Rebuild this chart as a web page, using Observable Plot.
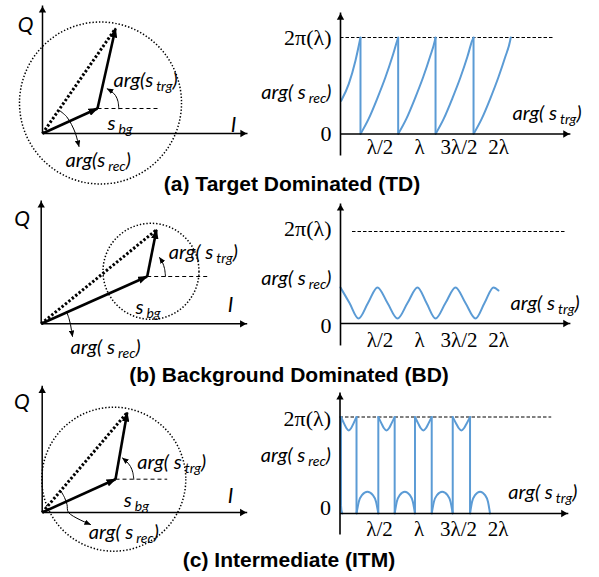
<!DOCTYPE html>
<html>
<head>
<meta charset="utf-8">
<script src="https://cdn.jsdelivr.net/npm/d3@7"></script>
<script src="https://cdn.jsdelivr.net/npm/@observablehq/plot@0.6"></script>
<style>
html, body { margin: 0; padding: 0; background: #fff; }
#fig { position: relative; width: 599px; height: 577px; overflow: hidden; }
#fig svg { position: absolute; left: 0; top: 0; background: transparent; }
.cap { position: absolute; transform: translate(-50%, -50%); white-space: nowrap;
  font-family: "Liberation Sans", Arial, sans-serif; font-weight: bold; font-size: 21px; color: #000; }
</style>
</head>
<body>
<div id="fig"></div>
<script>
const TAU = 2 * Math.PI;
const BLUE = "#5B9BD5";

// ---------- Phasor diagrams (I/Q plane, arbitrary units, origin at axes crossing) ----------
const qAxisTop      = [6.4, 6.165, 6.335];
const iAxisEnd      = [10.25, 10.3, 10.25];
const bgTips        = [[2.75, 1.25], [5.3, 2.365], [3.665, 1.665]];
const trgTips       = [[3.65, 5.25], [5.765, 4.7], [4.25, 5.0]];
const refLineEnds   = [5.8, 8.3, 6.25];
const circleCenters = [[2.9, 1.525], [5.49, 2.625], [3.58, 1.665]];
const trgArcs = [
  [[3.815, 1.235], [3.775, 1.6], [3.65, 1.9], [3.45, 2.1], [3.235, 2.235]],
  [[6.215, 2.365], [6.165, 2.765], [6.065, 3.065], [5.915, 3.315]],
  [[4.58, 1.665], [4.53, 2.0], [4.415, 2.3], [4.215, 2.55], [4.015, 2.725]]
];
const recArcs = [
  [[0.85, 1.15], [1.2, 0.85], [1.45, 0.45], [1.65, 0], [1.75, -0.35], [1.825, -0.65]],
  [[1.265, 0.615], [1.39, 0.265], [1.465, -0.035], [1.515, -0.335], [1.565, -0.635]],
  [[0.915, 1.1], [1.115, 0.75], [1.24, 0.4], [1.315, 0], [2.415, -0.6]]
];
const qLabelPos   = [[-0.85, 5.4], [-0.95, 5.25], [-1.015, 5.5]];
const iLabelPos   = [[9.55, 0.4], [9.465, 0.915], [9.415, 0.835]];
const trgLabelPos = [[3.55, 2.65], [6.38, 3.58], [4.75, 2.5]];
const bgLabelPos  = [[3.25, 0.5], [4.715, 0.83], [4.08, 0.585]];
const recLabelPos = [[1.15, -1.35], [1.465, -1.17], [2.33, -1.0]];
const trgLabelText = ["arg(s_{trg})", "arg( s_{trg})", "arg( s_{trg})"];
const recLabelText = ["arg(s_{rec})", "arg( s_{rec})", "arg( s_{rec})"];
const bgLabelText  = "s_{bg}";

// ---------- Phase plots: x in wavelengths, y = arg(s_rec) in radians ----------
const tickValues = [0.5, 1, 1.5, 2];
const tickLabels = ["λ/2", "λ", "3λ/2", "2λ"];
const tdTeeth = [
  [[0.009, 2.16], [0.106, 3.28], [0.19, 4.79], [0.253, 6.283]],
  [[0.253, 0], [0.359, 1.02], [0.465, 2.31], [0.570, 3.71], [0.655, 5.01], [0.718, 6.09], [0.730, 6.283]],
  [[0.730, 0], [0.836, 1.02], [0.942, 2.31], [1.047, 3.71], [1.132, 5.01], [1.195, 6.09], [1.203, 6.283]],
  [[1.203, 0], [1.309, 1.02], [1.415, 2.31], [1.520, 3.71], [1.605, 5.01], [1.668, 6.09], [1.684, 6.283]],
  [[1.684, 0], [1.790, 1.02], [1.896, 2.31], [2.000, 3.71], [2.085, 5.01], [2.148, 6.09], [2.155, 6.283]]
];
const tdDrops = [0.253, 0.730, 1.203, 1.684];
const bdCurve = [
  [0, 2.46], [0.114, 1.40], [0.228, 0.34], [0.348, 1.40], [0.468, 2.46], [0.595, 1.40],
  [0.722, 0.34], [0.848, 1.40], [0.975, 2.46], [1.089, 1.40], [1.203, 0.34], [1.329, 1.40],
  [1.456, 2.46], [1.582, 1.40], [1.709, 0.34], [1.823, 1.40], [1.937, 2.46], [2.0, 2.25]
];
const itmSegments = [
  [[0.013, 0.5], [0.018, 0.2], [0.03, 0]],
  [[0.013, 6.283], [0.052, 5.85], [0.082, 5.55], [0.111, 5.41], [0.140, 5.55], [0.170, 5.85], [0.209, 6.283]],
  [[0.209, 0], [0.237, 0.75], [0.278, 1.2], [0.347, 1.42], [0.416, 1.2], [0.457, 0.75], [0.485, 0]],
  [[0.485, 6.283], [0.526, 5.85], [0.557, 5.55], [0.589, 5.41], [0.620, 5.55], [0.651, 5.85], [0.692, 6.283]],
  [[0.692, 0], [0.718, 0.75], [0.756, 1.2], [0.821, 1.42], [0.885, 1.2], [0.923, 0.75], [0.949, 0]],
  [[0.949, 6.283], [0.991, 5.85], [1.023, 5.55], [1.055, 5.41], [1.087, 5.55], [1.119, 5.85], [1.161, 6.283]],
  [[1.161, 0], [1.188, 0.75], [1.228, 1.2], [1.294, 1.42], [1.361, 1.2], [1.400, 0.75], [1.427, 0]],
  [[1.427, 6.283], [1.471, 5.85], [1.504, 5.55], [1.537, 5.41], [1.569, 5.55], [1.602, 5.85], [1.646, 6.283]],
  [[1.646, 0], [1.671, 0.75], [1.709, 1.2], [1.773, 1.42], [1.836, 1.2], [1.874, 0.75], [1.899, 0]]
];
const itmJumps = [[0.013, 0.5], [0.209, 0], [0.485, 0], [0.692, 0], [0.949, 0], [1.161, 0], [1.427, 0], [1.646, 0]];
const yAxisLow   = [-1.40, -1.50, -1.367];
const yAxisHigh  = [7.91, 8.195, 7.88];
const xAxisEnd   = [2.91, 2.91, 2.89];
const refTopX    = [[0, 2.70], [0.152, 2.85], [0, 2.68]];
const twoPiLabelY = [TAU, 6.47, 6.14];
const recAxisLabelY = [2.72, 3.05, 3.757];
const zeroLabelY = [0, -0.137, 0.39];
const tickLabelY = [-0.88, -1.16, -1.02];
const trgAxisLabelPos = [[2.177, 1.335], [2.152, 1.345], [2.13, 1.367]];
const captions = ["(a) Target Dominated (TD)", "(b) Background Dominated (BD)", "(c) Intermediate (ITM)"];

// ---------- layout (pixels) ----------
const phasorLayout = [{ox: 42, oy: 133}, {ox: 40.7, oy: 323.3}, {ox: 41.7, oy: 512}];
const circleRadius = [81, 48, 72];
const phaseLayout = [{ox: 340, y0: 133.5, y2: 37}, {ox: 340, y0: 323, y2: 231}, {ox: 339.5, y0: 513, y2: 416.5}];
const PX_PER_LAMBDA = 79;
const captionPos = [[292, 184], [289, 375], [289, 560]];
const ITALIC = "Lato, 'Open Sans', sans-serif";
const SERIF = "'Liberation Serif', 'DejaVu Serif', serif";
const TAG = {vec: 12, arc: 13};
const HEAD_R = 3.5;     // axis arrowhead (filled triangle symbol) radius
const HEAD_OFF = 5;     // centre-to-tip distance of that symbol

function subscripts(svg) {
  d3.select(svg).selectAll("text").each(function () {
    const t = this.textContent;
    const m = t.match(/^(.*?)_\{(.*?)\}(.*)$/);
    if (!m) return;
    const sel = d3.select(this);
    sel.text(null);
    sel.append("tspan").text(m[1]);
    sel.append("tspan").attr("font-size", 14).attr("dx", 3).attr("dy", 4).text(m[2]);
    if (m[3]) sel.append("tspan").attr("dy", -4).text(m[3]);
  });
}

function markers(svg, id) {
  const root = d3.select(svg);
  const defs = root.insert("defs", ":first-child");
  const add = (name, len, wid, back) => {
    defs.append("marker").attr("id", id + name)
      .attr("viewBox", `0 0 ${len} ${wid}`)
      .attr("refX", len - back).attr("refY", wid / 2)
      .attr("markerWidth", len).attr("markerHeight", wid)
      .attr("markerUnits", "userSpaceOnUse").attr("orient", "auto")
      .append("path").attr("d", `M0,0L${len},${wid / 2}L0,${wid}Z`).attr("fill", "black");
  };
  add("vec", 10, 7.5, 1);
  add("arc", 6.5, 5.5, 0.5);
  for (const [name, v] of Object.entries(TAG)) {
    root.selectAll(`g[stroke-miterlimit="${v}"] path`).attr("marker-end", `url(#${id + name})`);
  }
}

const link = (data, o) => Plot.link(data, {
  x1: d => d[0][0], y1: d => d[0][1], x2: d => d[1][0], y2: d => d[1][1], ...o
});

// two axes ending in filled arrowheads: one pointing up, one pointing right
function axesMarks(upTip, rightTip, base, width) {
  return [
    link([[base[0], upTip], [base[1], rightTip]], {stroke: "black", strokeWidth: width}),
    Plot.dot([upTip], {x: d => d[0], y: d => d[1], symbol: "triangle2", r: HEAD_R,
      fill: "black", stroke: "none", dy: HEAD_OFF}),
    Plot.dot([rightTip], {x: d => d[0], y: d => d[1], symbol: "triangle2", r: HEAD_R, rotate: 90,
      fill: "black", stroke: "none", dx: -HEAD_OFF})
  ];
}

function phasorPlot(k) {
  const L = phasorLayout[k], U = 20, O = [0, 0];
  const svg = Plot.plot({
    width: 599, height: 577, margin: 0,
    x: {axis: null, domain: [0, 1], range: [L.ox, L.ox + U]},
    y: {axis: null, domain: [0, 1], range: [L.oy, L.oy - U]},
    style: {background: "transparent", overflow: "visible"},
    marks: [
      Plot.dot([circleCenters[k]], {x: d => d[0], y: d => d[1], r: circleRadius[k],
        stroke: "black", strokeWidth: 1.5, strokeDasharray: "1.4,1.9"}),
      ...axesMarks([0, qAxisTop[k]], [iAxisEnd[k], 0], [O, O], 1.5),
      link([[bgTips[k], [refLineEnds[k], bgTips[k][1]]]],
        {stroke: "black", strokeWidth: 1, strokeDasharray: "4,3"}),
      link([[O, trgTips[k]]], {stroke: "black", strokeWidth: 3, strokeDasharray: "2.4,2"}),
      link([[O, bgTips[k]], [bgTips[k], trgTips[k]]],
        {stroke: "black", strokeWidth: 2.6, strokeMiterlimit: TAG.vec}),
      Plot.line(trgArcs[k], {curve: "catmull-rom", stroke: "black", strokeWidth: 1, strokeMiterlimit: TAG.arc}),
      Plot.line(recArcs[k], {curve: "catmull-rom", stroke: "black", strokeWidth: 1, strokeMiterlimit: TAG.arc}),
      Plot.text([{p: qLabelPos[k], t: "Q"}, {p: iLabelPos[k], t: "I"}],
        {x: d => d.p[0], y: d => d.p[1], text: "t", fontFamily: ITALIC, fontStyle: "italic",
         fontSize: 21, textAnchor: "middle", fill: "black"}),
      Plot.text([{p: trgLabelPos[k], t: trgLabelText[k]}, {p: bgLabelPos[k], t: bgLabelText},
                 {p: recLabelPos[k], t: recLabelText[k]}],
        {x: d => d.p[0], y: d => d.p[1], text: "t", fontFamily: ITALIC, fontStyle: "italic",
         fontSize: 20, textAnchor: "start", fill: "black"})
    ]
  });
  markers(svg, "p" + k);
  subscripts(svg);
  return svg;
}

function phasePlot(k, curveMarks) {
  const L = phaseLayout[k];
  const svg = Plot.plot({
    width: 599, height: 577, margin: 0,
    x: {axis: null, domain: [0, 1], range: [L.ox, L.ox + PX_PER_LAMBDA]},
    y: {axis: null, domain: [0, TAU], range: [L.y0, L.y2]},
    style: {background: "transparent", overflow: "visible"},
    marks: [
      Plot.ruleY([TAU], {x1: refTopX[k][0], x2: refTopX[k][1], stroke: "black", strokeWidth: 1, strokeDasharray: "3.5,2"}),
      ...curveMarks,
      ...axesMarks([0, yAxisHigh[k]], [xAxisEnd[k], 0], [[0, yAxisLow[k]], [0, 0]], 1.6),
      Plot.text([{y: twoPiLabelY[k], t: "2π(λ)"}, {y: zeroLabelY[k], t: "0"}],
        {x: -0.114, y: "y", text: "t", fontFamily: SERIF, fontSize: 22, textAnchor: "end", fill: "black"}),
      Plot.text([{y: recAxisLabelY[k], t: recLabelText[1]}],
        {x: -0.114, y: "y", text: "t", fontFamily: ITALIC, fontStyle: "italic", fontSize: 20, textAnchor: "end", fill: "black"}),
      Plot.text([{p: trgAxisLabelPos[k], t: trgLabelText[1]}],
        {x: d => d.p[0], y: d => d.p[1], text: "t", fontFamily: ITALIC, fontStyle: "italic", fontSize: 20, textAnchor: "start", fill: "black"}),
      Plot.text(tickValues, {x: d => d, y: tickLabelY[k], text: (d, i) => tickLabels[i],
        fontFamily: SERIF, fontSize: 21, textAnchor: "middle", fill: "black"})
    ]
  });
  markers(svg, "q" + k);
  subscripts(svg);
  return svg;
}

const segs = arr => arr.flatMap((seg, i) => seg.map(([x, y]) => ({x, y, z: i})));
const fig = document.getElementById("fig");
for (let k = 0; k < 3; ++k) fig.appendChild(phasorPlot(k));
fig.appendChild(phasePlot(0, [
  Plot.line(segs(tdTeeth), {x: "x", y: "y", z: "z", curve: "monotone-x", stroke: BLUE, strokeWidth: 2}),
  Plot.ruleX(tdDrops, {y1: 0, y2: TAU, stroke: BLUE, strokeWidth: 2})
]));
fig.appendChild(phasePlot(1, [
  Plot.line(bdCurve, {curve: "monotone-x", stroke: BLUE, strokeWidth: 2})
]));
fig.appendChild(phasePlot(2, [
  Plot.line(segs(itmSegments), {x: "x", y: "y", z: "z", curve: "monotone-x", stroke: BLUE, strokeWidth: 2}),
  Plot.ruleX(itmJumps, {x: d => d[0], y1: d => d[1], y2: TAU, stroke: BLUE, strokeWidth: 2})
]));
captions.forEach((c, i) => {
  const d = document.createElement("div");
  d.className = "cap";
  d.style.left = captionPos[i][0] + "px";
  d.style.top = captionPos[i][1] + "px";
  d.textContent = c;
  fig.appendChild(d);
});
</script>
</body>
</html>
